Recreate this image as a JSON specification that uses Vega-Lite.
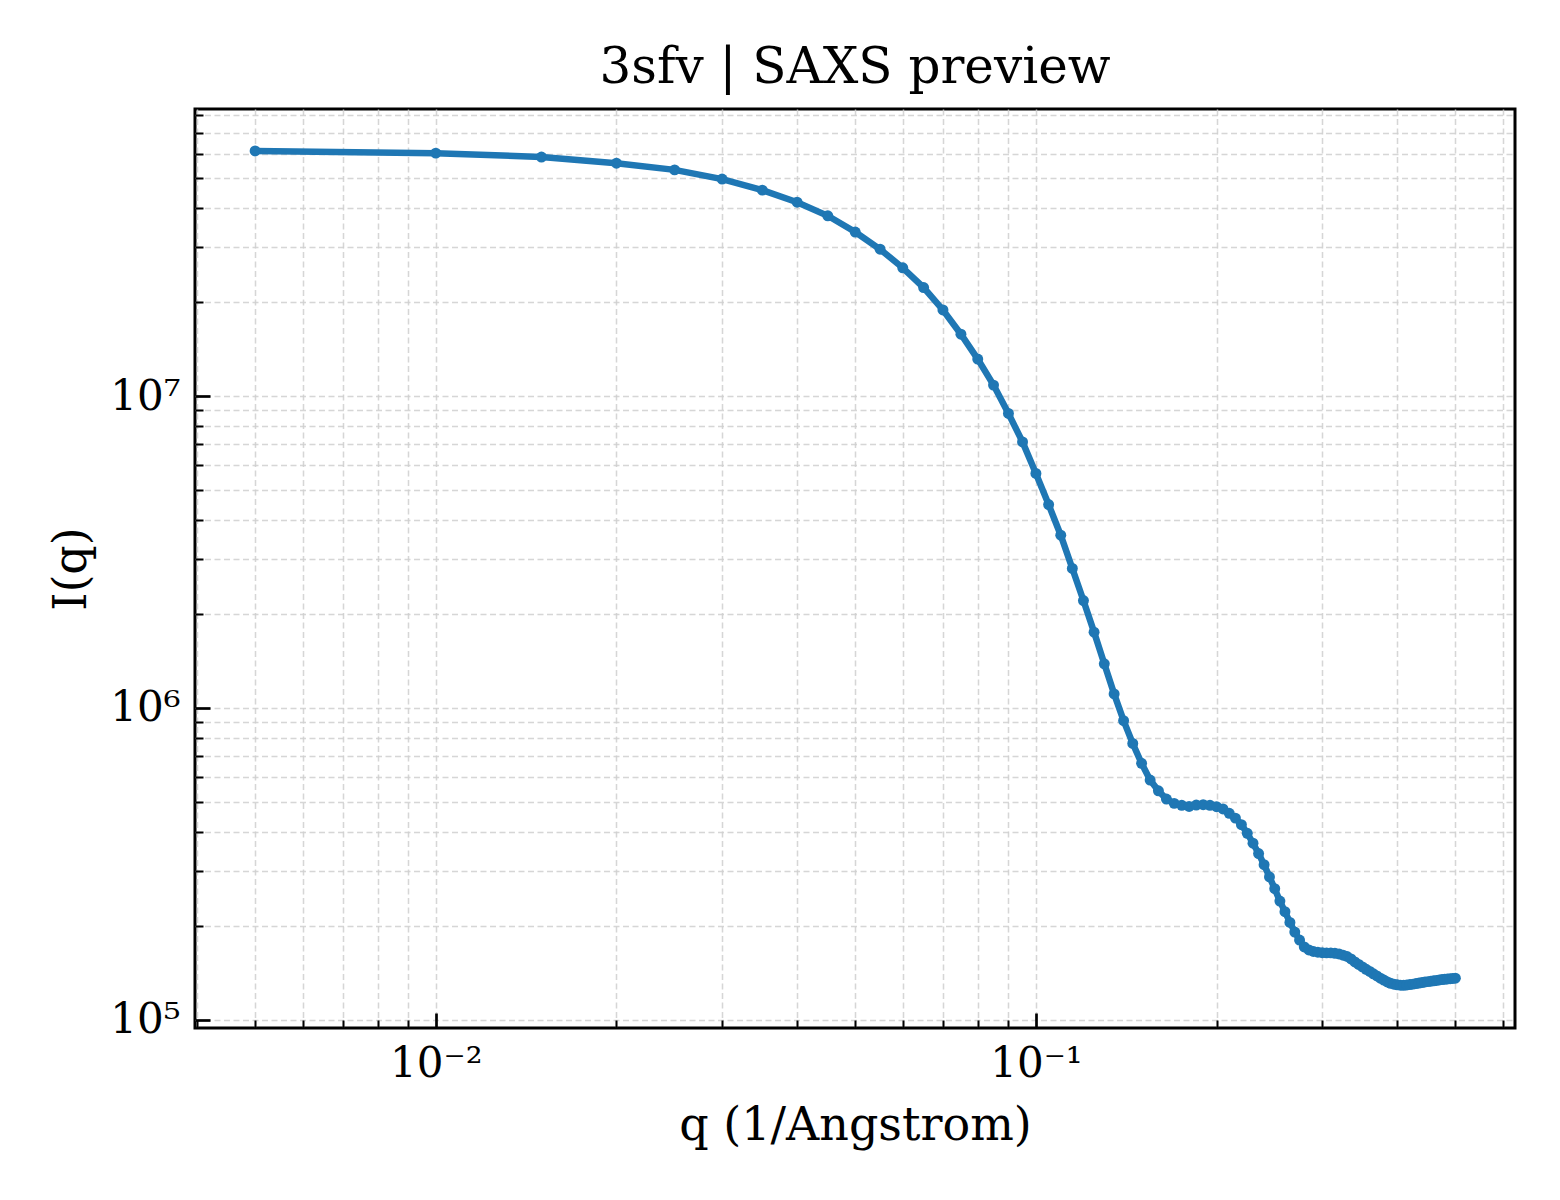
{
  "$schema": "https://vega.github.io/schema/vega-lite/v6.json",
  "autosize": {"type": "none"},
  "padding": {"left": 195, "top": 109, "right": 45, "bottom": 172},
  "width": 1320,
  "height": 919,
  "background": "white",
  "title": {
    "text": "3sfv | SAXS preview",
    "font": "DejaVu Serif",
    "fontSize": 50,
    "fontWeight": "normal",
    "color": "black",
    "anchor": "middle",
    "baseline": "alphabetic",
    "offset": 24,
    "dy": 63
  },
  "data": {
    "values": [
      {"q": 0.005, "I": 6.12e7}, {"q": 0.01, "I": 6.02e7}, {"q": 0.015, "I": 5.85e7},
      {"q": 0.02, "I": 5.59e7}, {"q": 0.025, "I": 5.32e7}, {"q": 0.03, "I": 4.97e7},
      {"q": 0.035, "I": 4.58e7}, {"q": 0.04, "I": 4.19e7}, {"q": 0.045, "I": 3.79e7},
      {"q": 0.05, "I": 3.36e7}, {"q": 0.055, "I": 2.96e7}, {"q": 0.06, "I": 2.58e7},
      {"q": 0.065, "I": 2.23e7}, {"q": 0.07, "I": 1.89e7}, {"q": 0.075, "I": 1.58e7},
      {"q": 0.08, "I": 1.315e7}, {"q": 0.085, "I": 1.085e7}, {"q": 0.09, "I": 8.8e6},
      {"q": 0.095, "I": 7.13e6}, {"q": 0.1, "I": 5.65e6}, {"q": 0.105, "I": 4.49e6},
      {"q": 0.11, "I": 3.58e6}, {"q": 0.115, "I": 2.8e6}, {"q": 0.12, "I": 2.21e6},
      {"q": 0.125, "I": 1.75e6}, {"q": 0.13, "I": 1.385e6}, {"q": 0.135, "I": 1.109e6},
      {"q": 0.14, "I": 9.1e5}, {"q": 0.145, "I": 7.69e5}, {"q": 0.15, "I": 6.64e5},
      {"q": 0.155, "I": 5.87e5}, {"q": 0.16, "I": 5.42e5}, {"q": 0.165, "I": 5.1e5},
      {"q": 0.17, "I": 4.94e5}, {"q": 0.175, "I": 4.87e5}, {"q": 0.18, "I": 4.83e5},
      {"q": 0.185, "I": 4.88e5}, {"q": 0.19, "I": 4.89e5}, {"q": 0.195, "I": 4.87e5},
      {"q": 0.2, "I": 4.82e5}, {"q": 0.205, "I": 4.74e5}, {"q": 0.21, "I": 4.59e5},
      {"q": 0.215, "I": 4.43e5}, {"q": 0.22, "I": 4.22e5}, {"q": 0.225, "I": 3.96e5},
      {"q": 0.23, "I": 3.68e5}, {"q": 0.235, "I": 3.41e5}, {"q": 0.24, "I": 3.14e5},
      {"q": 0.245, "I": 2.87e5}, {"q": 0.25, "I": 2.63e5}, {"q": 0.255, "I": 2.4e5},
      {"q": 0.26, "I": 2.22e5}, {"q": 0.265, "I": 2.05e5}, {"q": 0.27, "I": 1.91e5},
      {"q": 0.275, "I": 1.8e5}, {"q": 0.28, "I": 1.711e5}, {"q": 0.285, "I": 1.673e5},
      {"q": 0.29, "I": 1.655e5}, {"q": 0.295, "I": 1.646e5}, {"q": 0.3, "I": 1.64e5},
      {"q": 0.305, "I": 1.637e5}, {"q": 0.31, "I": 1.637e5}, {"q": 0.315, "I": 1.632e5},
      {"q": 0.32, "I": 1.624e5}, {"q": 0.325, "I": 1.61e5}, {"q": 0.33, "I": 1.594e5},
      {"q": 0.335, "I": 1.566e5}, {"q": 0.34, "I": 1.531e5}, {"q": 0.345, "I": 1.503e5},
      {"q": 0.35, "I": 1.476e5}, {"q": 0.355, "I": 1.45e5}, {"q": 0.36, "I": 1.427e5},
      {"q": 0.365, "I": 1.403e5}, {"q": 0.37, "I": 1.381e5}, {"q": 0.375, "I": 1.358e5},
      {"q": 0.38, "I": 1.339e5}, {"q": 0.385, "I": 1.321e5}, {"q": 0.39, "I": 1.308e5},
      {"q": 0.395, "I": 1.299e5}, {"q": 0.4, "I": 1.293e5}, {"q": 0.405, "I": 1.29e5},
      {"q": 0.41, "I": 1.289e5}, {"q": 0.415, "I": 1.292e5}, {"q": 0.42, "I": 1.296e5},
      {"q": 0.425, "I": 1.3e5}, {"q": 0.43, "I": 1.305e5}, {"q": 0.435, "I": 1.31e5},
      {"q": 0.44, "I": 1.315e5}, {"q": 0.445, "I": 1.321e5}, {"q": 0.45, "I": 1.324e5},
      {"q": 0.455, "I": 1.328e5}, {"q": 0.46, "I": 1.332e5}, {"q": 0.465, "I": 1.336e5},
      {"q": 0.47, "I": 1.34e5}, {"q": 0.475, "I": 1.344e5}, {"q": 0.48, "I": 1.347e5},
      {"q": 0.485, "I": 1.35e5}, {"q": 0.49, "I": 1.353e5}, {"q": 0.495, "I": 1.355e5},
      {"q": 0.5, "I": 1.358e5}
    ]
  },
  "mark": {
    "type": "line",
    "color": "#1f77b4",
    "strokeWidth": 6.5,
    "point": {"filled": true, "size": 120, "color": "#1f77b4", "opacity": 1}
  },
  "encoding": {
    "x": {
      "field": "q",
      "type": "quantitative",
      "scale": {"type": "log", "domain": [0.00397, 0.6285], "nice": false},
      "axis": {
        "title": "q (1/Angstrom)",
        "values": [0.004, 0.005, 0.006, 0.007, 0.008, 0.009, 0.01, 0.02, 0.03, 0.04, 0.05, 0.06, 0.07, 0.08, 0.09, 0.1, 0.2, 0.3, 0.4, 0.5, 0.6],
        "labelExpr": "abs(log(datum.value)/LN10 - round(log(datum.value)/LN10)) < 1e-6 ? (round(log(datum.value)/LN10) == -2 ? '10⁻²' : round(log(datum.value)/LN10) == -1 ? '10⁻¹' : '') : ''",
        "tickSize": {"condition": {"test": "abs(log(datum.value)/LN10 - round(log(datum.value)/LN10)) < 1e-6", "value": -15}, "value": -8},
        "tickWidth": {"condition": {"test": "abs(log(datum.value)/LN10 - round(log(datum.value)/LN10)) < 1e-6", "value": 2.7}, "value": 2},
        "labelPadding": 30,
        "titlePadding": 12
      }
    },
    "y": {
      "field": "I",
      "type": "quantitative",
      "scale": {"type": "log", "domain": [94000, 83400000], "nice": false},
      "axis": {
        "title": "I(q)",
        "values": [100000, 200000, 300000, 400000, 500000, 600000, 700000, 800000, 900000, 1000000, 2000000, 3000000, 4000000, 5000000, 6000000, 7000000, 8000000, 9000000, 10000000, 20000000, 30000000, 40000000, 50000000, 60000000, 70000000, 80000000],
        "labelExpr": "abs(log(datum.value)/LN10 - round(log(datum.value)/LN10)) < 1e-6 ? (round(log(datum.value)/LN10) == 5 ? '10⁵' : round(log(datum.value)/LN10) == 6 ? '10⁶' : round(log(datum.value)/LN10) == 7 ? '10⁷' : '') : ''",
        "tickSize": {"condition": {"test": "abs(log(datum.value)/LN10 - round(log(datum.value)/LN10)) < 1e-6", "value": -15}, "value": -8},
        "tickWidth": {"condition": {"test": "abs(log(datum.value)/LN10 - round(log(datum.value)/LN10)) < 1e-6", "value": 2.7}, "value": 2},
        "labelPadding": 30,
        "titlePadding": 14
      }
    }
  },
  "config": {
    "font": "DejaVu Serif",
    "view": {"stroke": "black", "strokeWidth": 3},
    "axis": {
      "domain": false,
      "grid": true,
      "gridColor": "#cfcfcf",
      "gridWidth": 1.5,
      "gridDash": [6, 3.5],
      "gridOpacity": 0.85,
      "tickColor": "black",
      "labelColor": "black",
      "labelFont": "DejaVu Serif",
      "labelFontSize": 42,
      "labelOverlap": false,
      "labelFlush": false,
      "titleColor": "black",
      "titleFont": "DejaVu Serif",
      "titleFontSize": 46,
      "titleFontWeight": "normal"
    }
  }
}
